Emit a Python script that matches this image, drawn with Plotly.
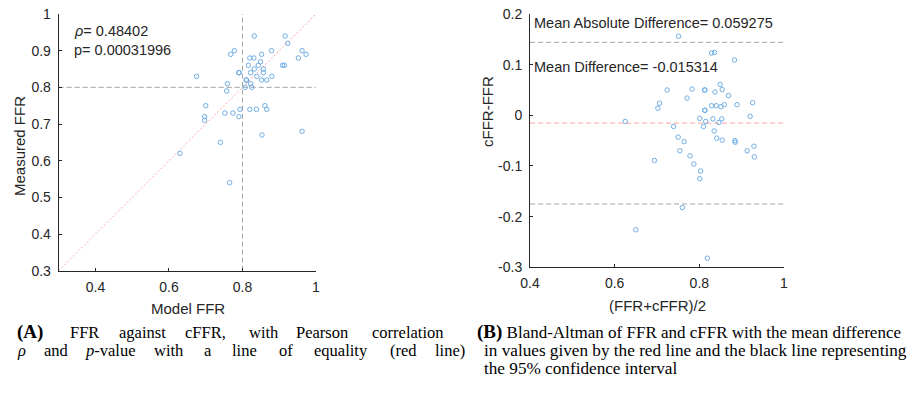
import plotly.graph_objects as go

W, H = 914, 395

# ---- Panel A data: (Model FFR, Measured FFR) ----
model_ffr = [0.675, 0.630, 0.697, 0.697, 0.700, 0.740, 0.752, 0.759, 0.757, 0.765,
             0.768, 0.778, 0.774, 0.791, 0.790, 0.793, 0.790, 0.807, 0.811, 0.810,
             0.816, 0.820, 0.831, 0.832, 0.822, 0.832, 0.822, 0.825, 0.820, 0.838,
             0.839, 0.843, 0.849, 0.852, 0.852, 0.857, 0.857, 0.861, 0.866, 0.866,
             0.853, 0.879, 0.880, 0.916, 0.923, 0.909, 0.914, 0.952, 0.962, 0.973,
             0.962]
measured_ffr = [0.830, 0.620, 0.720, 0.710, 0.750, 0.650, 0.730, 0.810, 0.790, 0.540,
                0.890, 0.900, 0.730, 0.840, 0.840, 0.740, 0.720, 0.800, 0.820, 0.820,
                0.860, 0.880, 0.880, 0.940, 0.840, 0.850, 0.810, 0.800, 0.740, 0.740,
                0.830, 0.860, 0.870, 0.890, 0.820, 0.850, 0.840, 0.750, 0.740, 0.820,
                0.670, 0.900, 0.830, 0.940, 0.920, 0.860, 0.860, 0.880, 0.900, 0.890,
                0.680]

# ---- Panel B data: Bland-Altman ----
ba_mean = [0.751, 0.829, 0.836, 0.883, 0.625, 0.650, 0.694, 0.702, 0.706, 0.724,
           0.739, 0.750, 0.754, 0.764, 0.760, 0.771, 0.783, 0.778, 0.787, 0.801,
           0.803, 0.801, 0.810, 0.813, 0.813, 0.813, 0.813, 0.815, 0.819, 0.829,
           0.832, 0.835, 0.837, 0.840, 0.841, 0.849, 0.851, 0.846, 0.853, 0.854,
           0.854, 0.859, 0.869, 0.884, 0.885, 0.889, 0.913, 0.920, 0.926, 0.929,
           0.930]
ba_diff = [0.156, 0.123, 0.124, 0.109, -0.012, -0.226, -0.089, 0.014, 0.024, 0.050,
           -0.022, -0.043, -0.070, -0.052, -0.182, 0.034, 0.052, -0.080, -0.096, -0.006,
           -0.110, -0.125, -0.022, 0.050, 0.050, 0.010, 0.010, -0.012, -0.282, 0.019,
           -0.007, -0.031, 0.046, 0.019, -0.045, 0.061, 0.017, -0.014, -0.007, 0.051,
           -0.049, 0.021, 0.039, -0.050, -0.053, 0.021, -0.070, -0.002, 0.025, -0.061,
           -0.082]

mean_difference = -0.015314
upper_limit = 0.144
lower_limit = -0.175
threshold = 0.8

a_xticks = [0.4, 0.6, 0.8, 1.0]
a_xticklabels = ["0.4", "0.6", "0.8", "1"]
a_yticks = [0.3, 0.4, 0.5, 0.6, 0.7, 0.8, 0.9, 1.0]
a_yticklabels = ["0.3", "0.4", "0.5", "0.6", "0.7", "0.8", "0.9", "1"]
b_xticks = [0.4, 0.6, 0.8, 1.0]
b_xticklabels = ["0.4", "0.6", "0.8", "1"]
b_yticks = [-0.3, -0.2, -0.1, 0.0, 0.1, 0.2]
b_yticklabels = ["-0.3", "-0.2", "-0.1", "0", "0.1", "0.2"]


def px(x):
    return x / W


def py(y):
    return 1 - y / H


SANS = "Liberation Sans, Arial, sans-serif"
SERIF = "Liberation Serif, Times New Roman, serif"
TXT = "#262626"
MARK = "#62a6e2"
GRAY = "#a3a3a3"
PINK = "#ffa3a3"

fig = go.Figure()

fig.add_trace(go.Scatter(x=model_ffr, y=measured_ffr, mode="markers",
                         marker=dict(symbol="circle-open", size=4.5, color=MARK,
                                     line=dict(width=0.9, color=MARK)),
                         xaxis="x", yaxis="y", showlegend=False, hoverinfo="skip"))
fig.add_trace(go.Scatter(x=ba_mean, y=ba_diff, mode="markers",
                         marker=dict(symbol="circle-open", size=4.5, color=MARK,
                                     line=dict(width=0.9, color=MARK)),
                         xaxis="x2", yaxis="y2", showlegend=False, hoverinfo="skip"))

axis_common = dict(showline=True, linecolor=TXT, linewidth=1, mirror=False,
                   ticks="inside", ticklen=3, tickwidth=1, tickcolor=TXT,
                   showgrid=False, zeroline=False, automargin=False,
                   tickfont=dict(family=SANS, size=14, color=TXT))

fig.update_layout(
    template="none",
    width=W, height=H, margin=dict(l=0, r=0, t=0, b=0, autoexpand=False),
    paper_bgcolor="white", plot_bgcolor="white",
    xaxis=dict(domain=[px(58.7), px(316)], range=[0.3, 1.0], tickvals=a_xticks,
               ticktext=a_xticklabels, anchor="y", ticklabelstandoff=3, **axis_common),
    yaxis=dict(domain=[py(270.7), py(14)], range=[0.3, 1.0], tickvals=a_yticks,
               ticktext=a_yticklabels, anchor="x", ticklabelstandoff=4, **axis_common),
    xaxis2=dict(domain=[px(530), px(784)], range=[0.4, 1.0], tickvals=b_xticks,
                ticktext=b_xticklabels, anchor="y2", ticklabelstandoff=3, **axis_common),
    yaxis2=dict(domain=[py(267.3), py(14)], range=[-0.3, 0.2], tickvals=b_yticks,
                ticktext=b_yticklabels, anchor="x2", ticklabelstandoff=4, **axis_common),
)

dash = "5px,3px"
shapes = [
    dict(type="line", xref="x", yref="y", x0=threshold, x1=threshold, y0=0.3, y1=1.0,
         line=dict(color=GRAY, width=1, dash=dash), layer="below"),
    dict(type="line", xref="x", yref="y", x0=0.3, x1=1.0, y0=threshold, y1=threshold,
         line=dict(color=GRAY, width=1, dash=dash), layer="below"),
    dict(type="line", xref="x", yref="y", x0=0.3, x1=1.0, y0=0.3, y1=1.0,
         line=dict(color=PINK, width=1, dash="2px,2px"), layer="below"),
    dict(type="line", xref="x2", yref="y2", x0=0.4, x1=1.0, y0=upper_limit, y1=upper_limit,
         line=dict(color=GRAY, width=1, dash=dash), layer="below"),
    dict(type="line", xref="x2", yref="y2", x0=0.4, x1=1.0, y0=lower_limit, y1=lower_limit,
         line=dict(color=GRAY, width=1, dash=dash), layer="below"),
    dict(type="line", xref="x2", yref="y2", x0=0.4, x1=1.0, y0=mean_difference, y1=mean_difference,
         line=dict(color=PINK, width=1, dash=dash), layer="below"),
]
fig.update_layout(shapes=shapes)

ann = []


def text(x, y, s, size=14.5, family=SANS, xanchor="left", angle=0, color=TXT):
    ann.append(dict(x=px(x), y=py(y), xref="paper", yref="paper", text=s,
                    showarrow=False, xanchor=xanchor, yanchor="middle", textangle=angle,
                    font=dict(family=family, size=size, color=color)))


# panel A texts
text(72, 31, "<i>ρ</i>= 0.48402")
text(72, 50, "p= 0.00031996")
text(19, 146, "Measured FFR", size=15, xanchor="center", angle=-90)
text(188, 308, "Model FFR", size=15, xanchor="center")

# panel B texts
text(532, 23, "Mean Absolute Difference= 0.059275")
text(532, 67, "Mean Difference= -0.015314")
text(488, 112, "cFFR-FFR", size=15, xanchor="center", angle=-90)
text(657, 305, "(FFR+cFFR)/2", size=15, xanchor="center")

# caption A, justified word by word
cap_a1 = [(15, "<b>(A)</b>"), (68, "FFR"), (117, "against"), (183, "cFFR,"),
          (247, "with"), (294, "Pearson"), (370, "correlation")]
cap_a2 = [(15, "<i>ρ</i>"), (42, "and"), (83, "<i>p</i>-value"), (152, "with"),
          (202, "a"), (230, "line"), (277, "of"), (312, "equality"), (388, "(red"),
          (433, "line)")]
for x, w in cap_a1:
    text(x, 332, w, size=19 if "(A)" in w else 16.5, family=SERIF, color="black")
for x, w in cap_a2:
    text(x, 350, w, size=16.5, family=SERIF, color="black")

text(475, 332, "<b><span style='font-size:19px'>(B)</span></b> Bland-Altman of FFR and cFFR with the mean difference",
     size=17, family=SERIF, color="black")
text(482, 350, "in values given by the red line and the black line representing",
     size=17.2, family=SERIF, color="black")
text(482, 368, "the 95% confidence interval", size=17.2, family=SERIF, color="black")

fig.update_layout(annotations=ann)

fig.write_html("out.html")
